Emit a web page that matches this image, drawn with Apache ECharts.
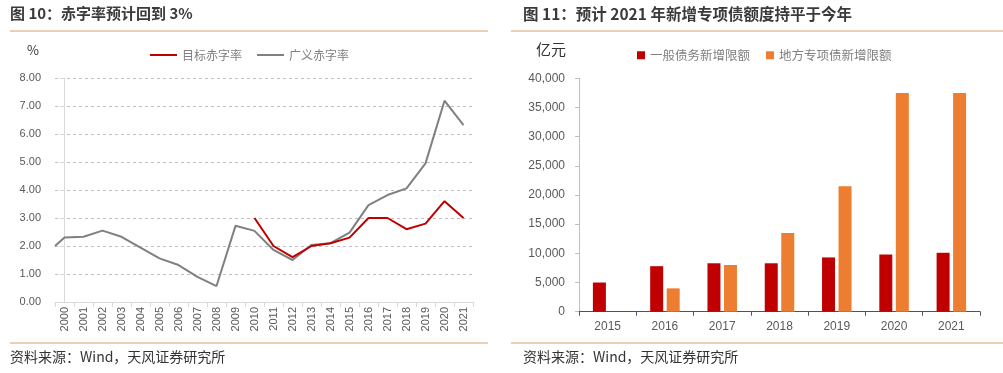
<!DOCTYPE html>
<html><head><meta charset="utf-8">
<script src="https://cdn.jsdelivr.net/npm/echarts@6/dist/echarts.min.js"></script>
<style>html,body{margin:0;padding:0;background:#fff}#c{width:1003px;height:373px}</style>
</head><body><div id="c"></div>
<script>
// ---- Left chart data (赤字率, %) ----
const years = ['2000','2001','2002','2003','2004','2005','2006','2007','2008','2009','2010','2011','2012','2013','2014','2015','2016','2017','2018','2019','2020','2021'];
const broadDeficit = [2.30,2.33,2.55,2.33,1.94,1.56,1.32,0.90,0.57,2.72,2.54,1.86,1.50,2.04,2.10,2.48,3.46,3.82,4.06,4.95,7.19,6.32];
const broadLeadIn = 2.00; // value where the grey line enters at the left edge of the plot
const targetDeficit = [null,null,null,null,null,null,null,null,null,null,3.0,2.0,1.6,2.0,2.1,2.3,3.0,3.0,2.6,2.8,3.6,3.0];
const deficitTicks = [0,1,2,3,4,5,6,7,8];

// ---- Right chart data (亿元) ----
const barYears = ['2015','2016','2017','2018','2019','2020','2021'];
const generalDebt = [5000,7800,8300,8300,9300,9800,10100];
const specialDebt = ['-',4000,8000,13500,21500,37500,37500];

const FONT = '"Noto Sans CJK SC","Noto Sans",sans-serif';
const NUMFONT = '"Liberation Sans","Noto Sans",sans-serif';

const broadPts = [[-0.5, broadLeadIn]].concat(broadDeficit.map((v,i)=>[i,v]));
const targetPts = targetDeficit.map((v,i)=> v==null ? null : [i,v]).filter(p=>p);

const chart = echarts.init(document.getElementById('c'));
chart.setOption({
  animation:false,
  backgroundColor:'#fff',
  textStyle:{fontFamily:FONT},
  title:[
    {left:10, top:6, padding:0, text:'{b|图 10：赤字率预计回到 }{n|3%}',
     textStyle:{rich:{b:{fontSize:15,fontWeight:'bold',color:'#3a3a3a',fontFamily:FONT},n:{fontSize:15,color:'#3a3a3a',fontFamily:FONT}}}},
    {left:523, top:6, padding:0, text:'图 11：预计 2021 年新增专项债额度持平于今年',
     textStyle:{fontSize:15.5,fontWeight:'bold',color:'#3a3a3a',fontFamily:FONT}},
    {left:10, top:350, padding:0, text:'资料来源：Wind，天风证券研究所', textStyle:{fontSize:14,fontWeight:'normal',color:'#333',fontFamily:FONT}},
    {left:523, top:350, padding:0, text:'资料来源：Wind，天风证券研究所', textStyle:{fontSize:14,fontWeight:'normal',color:'#333',fontFamily:FONT}}
  ],
  graphic:[
    {type:'line',shape:{x1:10,y1:31,x2:488,y2:31},style:{stroke:'#D9A066',lineWidth:1}},
    {type:'line',shape:{x1:511,y1:31,x2:1003,y2:31},style:{stroke:'#D9A066',lineWidth:1}},
    {type:'line',shape:{x1:10,y1:343,x2:488,y2:343},style:{stroke:'#D9A066',lineWidth:1}},
    {type:'line',shape:{x1:511,y1:343,x2:1003,y2:343},style:{stroke:'#D9A066',lineWidth:1}},
    {type:'text',left:27,top:44,style:{text:'%',fontSize:13,fill:'#333',fontFamily:FONT}},
    {type:'text',left:536,top:42,style:{text:'亿元',fontSize:15,fill:'#333',fontFamily:FONT}}
  ],
  legend:[
    {left:145, top:44, icon:'rect', itemWidth:27, itemHeight:2, itemGap:15,
     textStyle:{color:'#7f7f7f',fontSize:12,fontFamily:FONT},
     data:['目标赤字率','广义赤字率']},
    {left:632, top:44, icon:'rect', itemWidth:8, itemHeight:8, itemGap:16,
     textStyle:{color:'#7f7f7f',fontSize:12.5,fontFamily:FONT},
     data:['一般债务新增限额','地方专项债新增限额']}
  ],
  grid:[
    {left:55, top:78, width:418, height:224},
    {left:579, top:78.3, width:401, height:233.4}
  ],
  xAxis:[
    {type:'category', gridIndex:0, data:years, boundaryGap:true,
     axisLine:{lineStyle:{color:'#D9D9D9'}},
     axisTick:{show:true,interval:0,length:5,lineStyle:{color:'#D9D9D9'}},
     axisLabel:{interval:0,rotate:90,margin:5,color:'#595959',fontSize:11,fontFamily:NUMFONT}},
    {type:'value', gridIndex:0, min:-0.5, max:21.5, show:false},
    {type:'category', gridIndex:1, data:barYears, boundaryGap:true,
     axisLine:{lineStyle:{color:'#44546A'}},
     axisTick:{show:true,interval:0,length:4,lineStyle:{color:'#44546A'}},
     axisLabel:{interval:0,margin:9,color:'#595959',fontSize:12,fontFamily:NUMFONT}}
  ],
  yAxis:[
    {type:'value', gridIndex:0, min:deficitTicks[0], max:deficitTicks[deficitTicks.length-1], interval:1,
     axisLine:{show:true,lineStyle:{color:'#D9D9D9'}},
     axisTick:{show:true,length:5,lineStyle:{color:'#D9D9D9'}},
     axisLabel:{margin:14,color:'#595959',fontSize:11,fontFamily:NUMFONT,formatter:v=>v.toFixed(2)},
     splitLine:{show:true,lineStyle:{color:'#BFBFBF',type:[3,3]}}},
    {type:'value', gridIndex:1, min:0, max:40000, interval:5000,
     axisLine:{show:true,lineStyle:{color:'#BFBFBF'}},
     axisTick:{show:true,length:4,lineStyle:{color:'#BFBFBF'}},
     axisLabel:{margin:14,color:'#595959',fontSize:12,fontFamily:NUMFONT,formatter:v=>v.toLocaleString('en-US')},
     splitLine:{show:false}}
  ],
  series:[
    {name:'目标赤字率', type:'line', xAxisIndex:1, yAxisIndex:0, data:targetPts, symbol:'none',
     lineStyle:{color:'#C00000',width:2}, itemStyle:{color:'#C00000'}, z:3},
    {name:'广义赤字率', type:'line', xAxisIndex:1, yAxisIndex:0, data:broadPts, symbol:'none',
     lineStyle:{color:'#808080',width:2}, itemStyle:{color:'#808080'}, z:2},
    {name:'一般债务新增限额', type:'bar', xAxisIndex:2, yAxisIndex:1, data:generalDebt,
     barWidth:13, barGap:'27%', itemStyle:{color:'#C00000'}},
    {name:'地方专项债新增限额', type:'bar', xAxisIndex:2, yAxisIndex:1, data:specialDebt,
     barWidth:13, barGap:'27%', itemStyle:{color:'#ED7D31'}}
  ]
});
</script></body></html>
